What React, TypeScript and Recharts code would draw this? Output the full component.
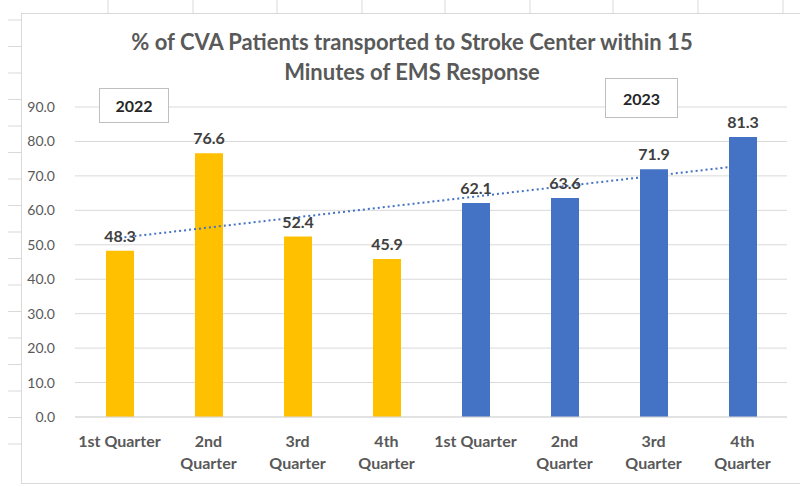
import React from 'react';
import { ComposedChart, Bar, Line, XAxis, YAxis, CartesianGrid, LabelList, Cell } from 'recharts';

const years = ['2022', '2022', '2022', '2022', '2023', '2023', '2023', '2023'];
const quarterLabels = ['1st Quarter', '2nd Quarter', '3rd Quarter', '4th Quarter', '1st Quarter', '2nd Quarter', '3rd Quarter', '4th Quarter'];
const values = [48.3, 76.6, 52.4, 45.9, 62.1, 63.6, 71.9, 81.3];
// linear trend line end points
const trendValues: (number | null)[] = [52.0, null, null, null, null, null, null, 73.0];
const yTicks = [0, 10, 20, 30, 40, 50, 60, 70, 80, 90];
const yearColors: Record<string, string> = { '2022': '#FFC000', '2023': '#4472C4' };

const data = values.map((v, i) => ({
  id: `${years[i]}-${i}`,
  label: quarterLabels[i],
  value: v,
  year: years[i],
  trend: trendValues[i],
}));

const FONT = 'Lato, "Open Sans", sans-serif';

const XTick = (props: any) => {
  const { x, y, payload, index } = props;
  const label = quarterLabels[index] ?? String(payload.value);
  const single = label.startsWith('1st');
  const lines = single ? [label] : label.split(' ');
  return (
    <g>
      {lines.map((ln, i) => (
        <text key={i} x={x} y={y + 30 + i * 22} textAnchor="middle" fill="#595959" fontSize={16} fontWeight={700} fontFamily={FONT}>
          {ln}
        </text>
      ))}
    </g>
  );
};

export default function App() {
  const leftTicks: number[] = [];
  for (let k = 0; k < 17; k++) leftTicks.push(20 + k * 26.5);
  const topTicks = [108, 193, 277, 362, 445, 530, 613, 698, 783];
  return (
    <div style={{ position: 'absolute', left: 0, top: 0, width: 800, height: 487, background: '#fff', overflow: 'hidden' }}>
      <svg width={800} height={487} style={{ position: 'absolute', left: 0, top: 0 }}>
        {leftTicks.map((y, i) => (
          <line key={'l' + i} x1={8} x2={21} y1={y} y2={y} stroke="#d9d9d9" strokeWidth={1} />
        ))}
        {topTicks.map((x, i) => (
          <line key={'t' + i} x1={x} x2={x} y1={0} y2={13} stroke="#d9d9d9" strokeWidth={1} />
        ))}
        <rect x={21.5} y={13.5} width={790} height={470} fill="#fff" stroke="#d9d9d9" strokeWidth={1} />
      </svg>
      <div style={{ position: 'absolute', left: 0, top: 0 }}>
        <ComposedChart width={800} height={487} data={data} margin={{ top: 107, right: 13, bottom: 20, left: 0 }}>
          <CartesianGrid horizontal vertical={false} stroke="#d9d9d9" />
          <XAxis
            dataKey="id"
            height={50}
            tick={<XTick />}
            tickLine={false}
            tickSize={0}
            tickMargin={0}
            axisLine={{ stroke: '#d9d9d9' }}
            interval={0}
          />
          <YAxis
            width={75}
            domain={[0, 90]}
            ticks={yTicks}
            tickFormatter={(v: number) => v.toFixed(1)}
            tick={{ fill: '#595959', fontSize: 14, fontFamily: FONT }}
            axisLine={false}
            tickLine={false}
            tickSize={0}
            tickMargin={20}
          />
          <Bar dataKey="value" barSize={28} isAnimationActive={false}>
            {data.map((d, i) => (
              <Cell key={i} fill={yearColors[d.year]} />
            ))}
            <LabelList
              dataKey="value"
              position="top"
              offset={9}
              formatter={(v: any) => Number(v).toFixed(1)}
              style={{ fill: '#404040', fontSize: 16, fontWeight: 700, fontFamily: FONT }}
            />
          </Bar>
          <Line
            dataKey="trend"
            connectNulls
            stroke="#4472C4"
            strokeWidth={2}
            strokeDasharray="2 3"
            dot={false}
            activeDot={false}
            isAnimationActive={false}
          />
        </ComposedChart>
      </div>
      <div style={{ position: 'absolute', left: 0, top: 27, width: 824, textAlign: 'center', fontFamily: FONT, fontWeight: 700, fontSize: 22, color: '#595959', lineHeight: '30px' }}>
        % of CVA Patients transported to Stroke Center within 15<br />Minutes of EMS Response
      </div>
      <div style={{ position: 'absolute', left: 99, top: 88, width: 70, height: 35, border: '1px solid #bfbfbf', background: '#fff', boxSizing: 'border-box', display: 'flex', alignItems: 'center', justifyContent: 'center', fontFamily: FONT, fontWeight: 700, fontSize: 16, color: '#262626' }}>
        2022
      </div>
      <div style={{ position: 'absolute', left: 605, top: 78, width: 73, height: 40, border: '1px solid #bfbfbf', background: '#fff', boxSizing: 'border-box', display: 'flex', alignItems: 'center', justifyContent: 'center', fontFamily: FONT, fontWeight: 700, fontSize: 16, color: '#262626' }}>
        2023
      </div>
    </div>
  );
}
